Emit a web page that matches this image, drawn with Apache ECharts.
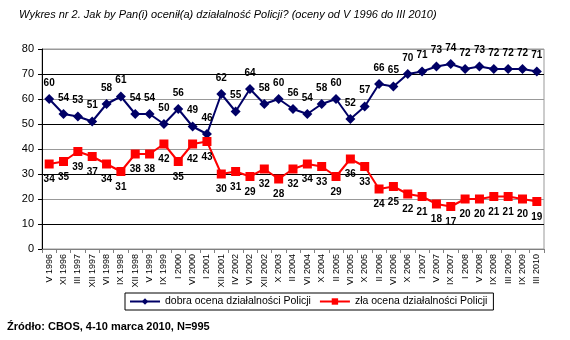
<!DOCTYPE html>
<html><head><meta charset="utf-8">
<script src="https://cdn.jsdelivr.net/npm/echarts@6/dist/echarts.min.js"></script>
<style>html,body{margin:0;padding:0;background:#fff}#c{width:570px;height:340px}</style>
</head><body><div id="c"></div>
<script>
const categories = ["V 1996","XI 1996","III 1997","XII 1997","VI 1998","IX 1998","XII 1998","V 1999","IX 1999","I 2000","VI 2000","I 2001","XII 2001","IV 2002","VI 2002","XII 2002","X 2003","II 2004","VI 2004","X 2004","II 2005","VI 2005","X 2005","II 2006","VI 2006","X 2006","I 2007","V 2007","IX 2007","I 2008","V 2008","IX 2008","III 2009","IX 2009","III 2010"];
const good = [60,54,53,51,58,61,54,54,50,56,49,46,62,55,64,58,60,56,54,58,60,52,57,66,65,70,71,73,74,72,73,72,72,72,71];
const bad = [34,35,39,37,34,31,38,38,42,35,42,43,30,31,29,32,28,32,34,33,29,36,33,24,25,22,21,18,17,20,20,21,21,20,19];
const blackGridLines = [10,30,50,70];
const goodName = "dobra ocena działalności Policji";
const badName = "zła ocena działalności Policji";

const chart = echarts.init(document.getElementById('c'));
const font = 'Arial, "Liberation Sans", sans-serif';
chart.setOption({
  animation:false,
  textStyle:{fontFamily:font},
  title:{text:"Wykres nr 2. Jak by Pan(i) ocenił(a) działalność Policji? (oceny od V 1996 do III 2010)",
    left:14, top:4, textStyle:{fontSize:11, fontWeight:'normal', fontStyle:'italic', color:'#000', fontFamily:font}},
  graphic:[
    {type:'text', left:7, top:321, style:{text:"Źródło: CBOS, 4-10 marca 2010, N=995", font:'bold 11px Arial, "Liberation Sans", sans-serif', fill:'#000'}},
    {type:'rect', shape:{x:42,y:49,width:502,height:200}, style:{fill:'none', stroke:'#999', lineWidth:1}, z:0}
  ],
  legend:{left:125, top:293, orient:'horizontal', padding:[3,6,3,4], borderColor:'#000', borderWidth:1,
    itemWidth:30, itemHeight:8, itemGap:8, textStyle:{fontSize:10.5, color:'#000'},
    data:[goodName, badName]},
  grid:{left:42, right:26, top:49, bottom:91},
  xAxis:{type:'category', data:categories, boundaryGap:true,
    axisLine:{lineStyle:{color:'#808080'}},
    axisTick:{show:true, alignWithLabel:false, lineStyle:{color:'#808080'}, length:4},
    axisLabel:{rotate:90, interval:0, fontSize:9, color:'#000', margin:5}},
  yAxis:{type:'value', min:0, max:80, interval:10,
    axisLine:{show:true, lineStyle:{color:'#000'}},
    axisTick:{show:true, length:4, lineStyle:{color:'#000'}},
    axisLabel:{fontSize:11, color:'#000', margin:8},
    splitLine:{show:true, lineStyle:{color:'#999'}}},
  series:[
    {name:goodName, type:'line', data:good, symbol:'diamond', symbolSize:10, z:3,
      itemStyle:{color:'#000066'}, lineStyle:{color:'#000066', width:2},
      label:{show:true, position:'top', distance:6, fontSize:10, fontWeight:'bold', color:'#000'},
      markLine:{silent:true, symbol:'none', z:1, label:{show:false}, lineStyle:{color:'#000', type:'solid', width:1},
        data: blackGridLines.map(v => ({yAxis:v}))}},
    {name:badName, type:'line', data:bad, symbol:'rect', symbolSize:9, z:3,
      itemStyle:{color:'#ff0000'}, lineStyle:{color:'#ff0000', width:2},
      label:{show:true, position:'bottom', distance:6, fontSize:10, fontWeight:'bold', color:'#000'}}
  ]
});
</script></body></html>
